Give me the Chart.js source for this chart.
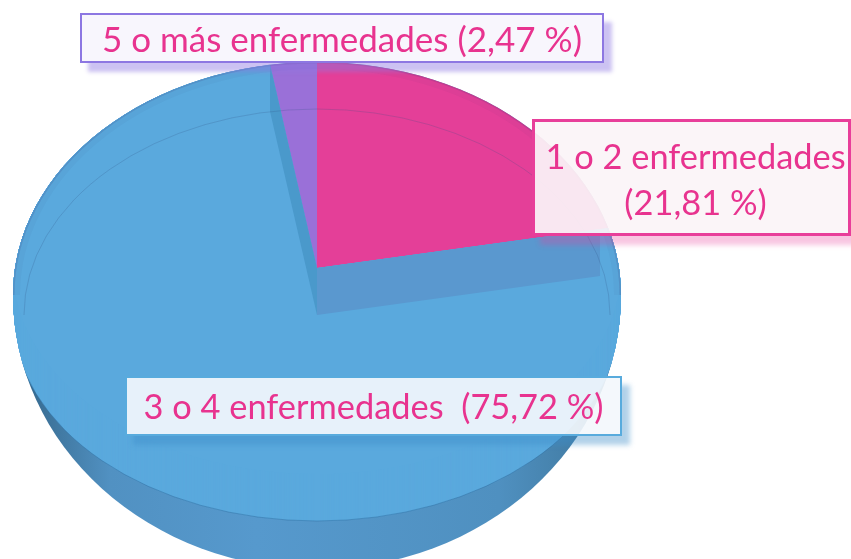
<!DOCTYPE html>
<html lang="es">
<head>
  <meta charset="UTF-8">
  <title>Enfermedades</title>
  <script src="https://cdn.jsdelivr.net/npm/chart.js"></script>
  <style>
    body { margin: 0; background: #fff; width: 851px; height: 559px; overflow: hidden; position: relative; }
    canvas { position: absolute; left: 0; top: 0; }
    .tag {
      position: absolute; box-sizing: border-box; text-align: center; color: #e8338f;
      font-family: Lato, "Open Sans", sans-serif; white-space: pre; font-size: 34.4px;
    }
  </style>
</head>
<body>
  <canvas id="pie" width="851" height="559"></canvas>
  <div class="tag" id="tag0" style="left:532px;top:119px;width:319px;height:117px;line-height:46px;padding-top:11px;padding-left:8px;border:3px solid #e83e9a;background:rgba(251,244,248,.93);box-shadow:8px 9px 5px rgba(232,62,154,.3)"></div>
  <div class="tag" id="tag1" style="left:125px;top:376px;width:497px;height:60px;line-height:56px;border:2px solid #58abdd;background:rgba(243,247,252,.92);box-shadow:8px 9px 5px rgba(60,140,200,.4)"></div>
  <div class="tag" id="tag2" style="left:80px;top:13px;width:524px;height:50px;line-height:46px;font-size:35px;border:2px solid #8d77e2;background:rgba(248,246,253,.96);box-shadow:8px 9px 4px rgba(141,119,226,.45)"></div>

  <script>
    const categories = ["1 o 2 enfermedades", "3 o 4 enfermedades", "5 o más enfermedades"];
    const values = [21.81, 75.72, 2.47];
    const colors = ["#e43f98", "#5aa9dd", "#9a70d8"];
    const separators = ["\n", "  ", " "];

    categories.forEach((name, i) => {
      const pct = String(values[i]).replace(".", ",");
      document.getElementById("tag" + i).textContent = name + separators[i] + "(" + pct + " %)";
    });

    // the pie is squashed to an ellipse and extruded by hand
    const RX = 304, RY = 206, FACE = 47;
    // outline of the whole body: two half ellipses around one centre
    const BODY_DY = 27, BODY_TOP = 233, BODY_LOW = 274;

    function slicePath(ctx, arc, dy) {
      const p = arc.getProps(["x", "y", "startAngle", "endAngle"]);
      ctx.beginPath();
      ctx.ellipse(p.x, p.y + dy, RX, RY, 0, p.startAngle, p.endAngle);
      ctx.lineTo(p.x, p.y + dy);
      ctx.closePath();
    }

    function bodyPath(ctx, arc) {
      const p = arc.getProps(["x", "y"]);
      ctx.beginPath();
      ctx.ellipse(p.x, p.y + BODY_DY, RX, BODY_TOP, 0, Math.PI, Math.PI * 2);
      ctx.ellipse(p.x, p.y + BODY_DY, RX, BODY_LOW, 0, 0, Math.PI);
      ctx.closePath();
    }

    function cutWall(ctx, arc, angle, f, color) {
      const p = arc.getProps(["x", "y"]);
      const ex = p.x + RX * f * Math.cos(angle), ey = p.y + RY * f * Math.sin(angle);
      ctx.beginPath();
      ctx.moveTo(p.x, p.y);
      ctx.lineTo(ex, ey);
      ctx.lineTo(ex, ey + FACE);
      ctx.lineTo(p.x, p.y + FACE);
      ctx.closePath();
      ctx.fillStyle = color;
      ctx.fill();
    }

    const extrude = {
      id: "extrude",
      beforeDatasetsDraw(chart) {
        const ctx = chart.ctx;
        const blue = chart.getDatasetMeta(0).data[1];
        const p = blue.getProps(["x", "y", "outerRadius"]);

        const side = ctx.createLinearGradient(13, 0, 621, 0);
        side.addColorStop(0, "#2a5f86");
        side.addColorStop(0.05, "#3c7299");
        side.addColorStop(0.16, "#5191c2");
        side.addColorStop(0.4, "#5699cd");
        side.addColorStop(0.8, "#4f90c0");
        side.addColorStop(0.92, "#447fa8");
        side.addColorStop(1, "#225470");

        ctx.save();
        bodyPath(ctx, blue);
        ctx.fillStyle = side;
        ctx.fill();
        ctx.clip();
        for (let dy = FACE; dy >= 0; dy--) {
          slicePath(ctx, blue, dy);
          ctx.fillStyle = colors[1];
          ctx.fill();
        }
        ctx.save();
        ctx.translate(p.x, p.y);
        ctx.scale(RX / p.outerRadius, RY / p.outerRadius);
        ctx.translate(-p.x, -p.y);
      },
      afterDatasetsDraw(chart) {
        const ctx = chart.ctx;
        ctx.restore();
        const arcs = chart.getDatasetMeta(0).data;
        const pink = arcs[0], blue = arcs[1];
        const p = blue.getProps(["x", "y", "startAngle", "endAngle"]);

        cutWall(ctx, pink, p.startAngle, 0.95, "#5a98cf");
        cutWall(ctx, blue, p.endAngle, 1, "#4a99cb");

        // darker band along the back edge
        ctx.strokeStyle = "rgba(60,50,110,.04)";
        ctx.lineWidth = 14;
        ctx.beginPath();
        ctx.ellipse(p.x, p.y + BODY_DY, RX, BODY_TOP, 0, Math.PI, Math.PI * 2);
        ctx.stroke();
        ctx.strokeStyle = "rgba(60,50,110,.16)";
        ctx.lineWidth = 3;
        ctx.stroke();

        // faint rim of the lower face
        ctx.lineWidth = 1;
        ctx.strokeStyle = "rgba(50,80,130,.22)";
        ctx.beginPath();
        ctx.ellipse(p.x, p.y + FACE, RX - 11, RY, 0, Math.PI, Math.PI * 2);
        ctx.stroke();
        ctx.strokeStyle = "rgba(40,100,150,.4)";
        ctx.beginPath();
        ctx.ellipse(p.x, p.y + FACE, RX, RY, 0, 0, Math.PI);
        ctx.stroke();
        ctx.restore();
      }
    };

    new Chart(document.getElementById("pie").getContext("2d"), {
      type: "pie",
      data: {
        labels: categories,
        datasets: [{
          data: values,
          backgroundColor: colors,
          borderWidth: 0,
          clip: false
        }]
      },
      options: {
        responsive: false,
        animation: false,
        layout: { padding: { right: 217, bottom: 23 } },
        events: [],
        plugins: { legend: { display: false }, tooltip: { enabled: false } }
      },
      plugins: [extrude]
    });
  </script>
</body>
</html>
